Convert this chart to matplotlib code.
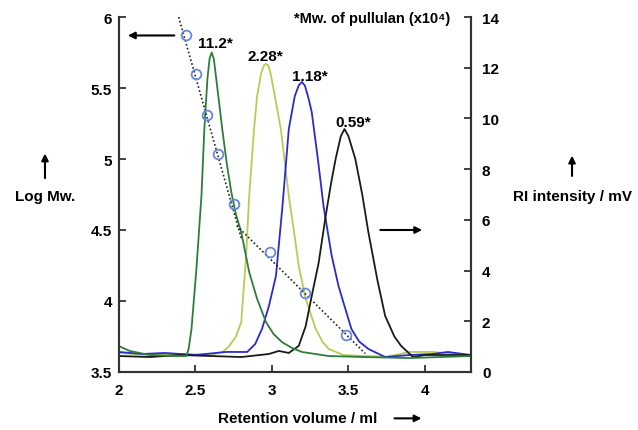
import matplotlib.pyplot as plt

plt.rcParams['font.family'] = ['Liberation Sans', 'DejaVu Sans']
plt.rcParams['font.weight'] = 'bold'

# calibration standards (retention volume / log Mw)
std_vol = [2.435, 2.506, 2.578, 2.649, 2.753, 2.987, 3.214, 3.487]
std_logmw = [5.87, 5.60, 5.31, 5.035, 4.68, 4.345, 4.056, 3.76]

# two fitted calibration lines (end points)
fit1_vol = [2.39, 2.80]
fit1_log = [6.00, 4.44]
fit2_vol = [2.77, 3.61]
fit2_log = [4.53, 3.63]

# RI traces
green_x = [2.0, 2.07, 2.2, 2.36, 2.44, 2.455, 2.474, 2.506, 2.539, 2.558, 2.578, 2.592,
           2.606, 2.62, 2.636, 2.655, 2.675, 2.705, 2.734, 2.765, 2.799, 2.851, 2.903,
           2.961, 3.01, 3.065, 3.13, 3.195, 3.37, 3.6, 3.9, 4.1, 4.3]
green_y = [1.02, 0.83, 0.67, 0.63, 0.63, 0.9, 1.70, 4.06, 6.94, 9.58, 11.55, 12.35,
           12.6, 12.35, 11.55, 10.6, 9.58, 8.2, 7.10, 6.2, 5.52, 3.94, 2.88,
           1.97, 1.5, 1.18, 0.95, 0.79, 0.63, 0.59, 0.55, 0.59, 0.63]

yellow_x = [2.0, 2.2, 2.4, 2.6, 2.68, 2.721, 2.765, 2.799, 2.831, 2.851, 2.883, 2.903,
            2.93, 2.948, 2.961, 2.975, 2.99, 3.019, 3.058, 3.11, 3.145, 3.175, 3.221,
            3.286, 3.33, 3.37, 3.468, 3.6, 3.75, 3.9, 4.05, 4.2, 4.3]
yellow_y = [0.75, 0.67, 0.71, 0.67, 0.8, 1.03, 1.4, 1.97, 4.57, 6.94, 9.58, 10.88,
            11.8, 12.1, 12.15, 12.1, 11.8, 10.88, 9.58, 6.94, 5.5, 4.18, 2.88,
            1.70, 1.2, 0.91, 0.67, 0.63, 0.6, 0.79, 0.79, 0.71, 0.63]

blue_x = [2.0, 2.15, 2.3, 2.5, 2.7, 2.838, 2.89, 2.935, 2.98, 3.026, 3.068, 3.11, 3.149,
          3.175, 3.195, 3.215, 3.24, 3.26, 3.3, 3.338, 3.39, 3.435, 3.519, 3.57, 3.63,
          3.74, 3.9, 4.05, 4.15, 4.3]
blue_y = [0.79, 0.71, 0.75, 0.67, 0.79, 0.79, 1.1, 1.70, 2.6, 3.79, 6.5, 9.58, 10.88,
          11.3, 11.44, 11.3, 10.77, 10.25, 8.4, 6.5, 4.6, 3.39, 1.70, 1.2, 0.91,
          0.59, 0.67, 0.71, 0.79, 0.67]

black_x = [2.0, 2.2, 2.4, 2.6, 2.8, 2.98, 3.045, 3.11, 3.175, 3.22, 3.26, 3.305, 3.351,
           3.385, 3.416, 3.45, 3.474, 3.5, 3.545, 3.59, 3.63, 3.69, 3.74, 3.8, 3.844,
           3.922, 4.0, 4.15, 4.3]
black_y = [0.63, 0.59, 0.67, 0.63, 0.59, 0.71, 0.83, 0.75, 1.03, 1.8, 3.0, 4.3, 6.15,
           7.4, 8.40, 9.3, 9.58, 9.3, 8.40, 7.0, 5.52, 3.6, 2.21, 1.4, 1.03,
           0.59, 0.67, 0.67, 0.67]

peak_labels = ['11.2*', '2.28*', '1.18*', '0.59*']
peak_x = [2.63, 2.96, 3.247, 3.532]
peak_y = [12.82, 12.3, 11.51, 9.70]

fig = plt.figure(figsize=(6.38, 4.31), dpi=100)
ax = fig.add_axes([0.1865, 0.1346, 0.5515, 0.8236])
ax2 = ax.twinx()

for a in (ax, ax2):
    a.spines['top'].set_visible(False)
    for s in ('left', 'right', 'bottom'):
        a.spines[s].set_color('#333333')
        a.spines[s].set_linewidth(1.5)

ax2.plot(yellow_x, yellow_y, color='#b6cc55', lw=1.3)
ax2.plot(blue_x, blue_y, color='#2a2ad2', lw=1.3)
ax2.plot(black_x, black_y, color='#1a1a1a', lw=1.3)
ax2.plot(green_x, green_y, color='#2e7d3c', lw=1.3)

ax.set_zorder(ax2.get_zorder() + 1)
ax.patch.set_visible(False)
ax.plot(fit1_vol, fit1_log, linestyle=(0, (1, 1.4)), color='#222222', lw=1.2)
ax.plot(fit2_vol, fit2_log, linestyle=(0, (1, 1.4)), color='#222222', lw=1.2)
ax.plot(std_vol, std_logmw, 'o', mfc='none', mec='#6688e0', mew=1.3, ms=7)

ax.set_xlim(2, 4.3)
ax.set_ylim(3.5, 6)
ax2.set_ylim(0, 14)
ax.set_xticks([2, 2.5, 3, 3.5, 4])
ax.set_xticklabels(['2', '2.5', '3', '3.5', '4'])
ax.set_yticks([3.5, 4, 4.5, 5, 5.5, 6])
ax.set_yticklabels(['3.5', '4', '4.5', '5', '5.5', '6'])
ax2.set_yticks([0, 2, 4, 6, 8, 10, 12, 14])

ax.tick_params(axis='x', direction='in', length=5, width=1.3, color='#333333',
               labelsize=11, pad=8)
ax.tick_params(axis='y', direction='in', length=5, width=1.3, color='#333333',
               labelsize=11, pad=5)
ax2.tick_params(axis='y', direction='in', length=5, width=1.3, color='#333333',
                labelsize=11, pad=8)
for lab in ax.get_xticklabels() + ax.get_yticklabels() + ax2.get_yticklabels():
    lab.set_fontweight('bold')

for t, x, y in zip(peak_labels, peak_x, peak_y):
    ax2.text(x, y, t, ha='center', va='baseline', fontsize=11, fontweight='bold')

fig.text(0.583, 0.957, '*Mw. of pullulan (x10⁴)', ha='center', va='center',
         fontsize=10.5, fontweight='bold')

arrow = dict(arrowstyle='-|>', color='black', lw=1.5, mutation_scale=10)

# axis titles with arrows
fig.text(0.0705, 0.543, 'Log Mw.', ha='center', va='center', fontsize=11, fontweight='bold')
ax.annotate('', xy=(0.0705, 0.648), xytext=(0.0705, 0.578), xycoords='figure fraction',
            textcoords='figure fraction', arrowprops=arrow, annotation_clip=False)
fig.text(0.898, 0.543, 'RI intensity / mV', ha='center', va='center', fontsize=11, fontweight='bold')
ax.annotate('', xy=(0.8966, 0.643), xytext=(0.8966, 0.583), xycoords='figure fraction',
            textcoords='figure fraction', arrowprops=arrow, annotation_clip=False)
fig.text(0.467, 0.027, 'Retention volume / ml', ha='center', va='center', fontsize=11, fontweight='bold')
ax.annotate('', xy=(0.665, 0.027), xytext=(0.614, 0.027), xycoords='figure fraction',
            textcoords='figure fraction', arrowprops=arrow, annotation_clip=False)

# arrows pointing to the axes
ax.annotate('', xy=(2.04, 5.87), xytext=(2.38, 5.87), arrowprops=arrow)
ax2.annotate('', xy=(4.0, 5.6), xytext=(3.69, 5.6), arrowprops=arrow)

fig.savefig('out.png', dpi=100)
